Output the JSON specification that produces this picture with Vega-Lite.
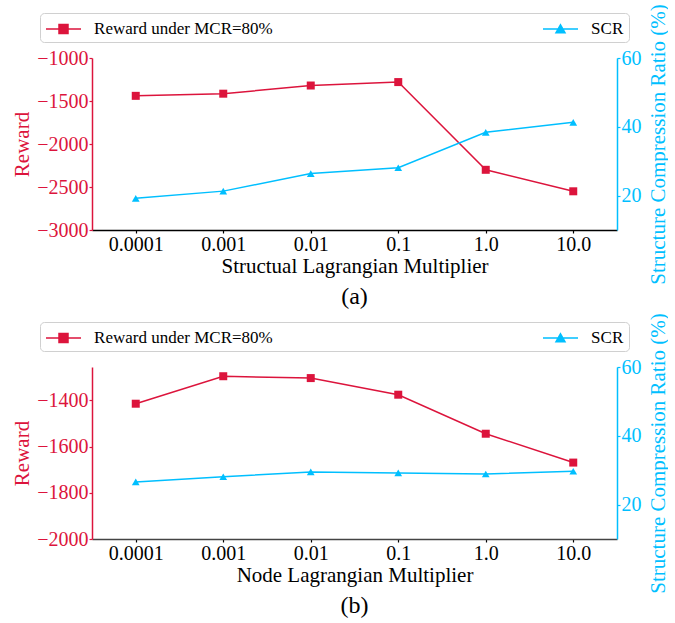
{
  "$schema": "https://vega.github.io/schema/vega-lite/v6.json",
  "padding": {"left": 11, "top": 3, "right": 0, "bottom": 0},
  "background": "white",
  "config": {
    "font": "Liberation Serif",
    "view": {"stroke": null},
    "axis": {"grid": false, "labelFont": "Liberation Serif", "titleFont": "Liberation Serif", "labelFontSize": 20, "titleFontSize": 21, "titleFontWeight": "normal", "tickSize": 3, "labelPadding": 1, "domainWidth": 1.5, "tickWidth": 1.2},
    "title": {"font": "Liberation Serif", "fontSize": 24, "fontWeight": "normal", "color": "black"},
    "legend": {"labelFont": "Liberation Serif", "labelFontSize": 17, "labelColor": "black", "labelLimit": 400, "strokeColor": "#d0d0d0", "fillColor": "white", "cornerRadius": 4, "padding": 5, "symbolStrokeWidth": 1.5}
  },
  "datasets": {
    "a": [
      {"lambda": "0.0001", "reward": -1440, "scr": 19.2},
      {"lambda": "0.001", "reward": -1415, "scr": 21.3},
      {"lambda": "0.01", "reward": -1320, "scr": 26.4},
      {"lambda": "0.1", "reward": -1280, "scr": 28.1},
      {"lambda": "1.0", "reward": -2300, "scr": 38.4},
      {"lambda": "10.0", "reward": -2550, "scr": 41.3}
    ],
    "b": [
      {"lambda": "0.0001", "reward": -1414, "scr": 26.6},
      {"lambda": "0.001", "reward": -1295, "scr": 28.1},
      {"lambda": "0.01", "reward": -1303, "scr": 29.5},
      {"lambda": "0.1", "reward": -1375, "scr": 29.2},
      {"lambda": "1.0", "reward": -1544, "scr": 28.9},
      {"lambda": "10.0", "reward": -1669, "scr": 29.7}
    ]
  },
  "spacing": 137,
  "bounds": "flush",
  "resolve": {
    "scale": {"fill": "independent", "stroke": "independent", "shape": "independent"},
    "legend": {"fill": "independent", "stroke": "independent", "shape": "independent"}
  },
  "vconcat": [
    {
      "width": 525,
      "height": 172,
      "data": {"name": "a"},
      "title": {"text": "(a)", "orient": "bottom", "offset": 1},
      "encoding": {
        "x": {"field": "lambda", "type": "nominal", "sort": ["0.0001", "0.001", "0.01", "0.1", "1.0", "10.0"], "scale": {"type": "point", "padding": 0.5},
          "axis": {"title": "Structual Lagrangian Multiplier", "labelAngle": 0, "domainColor": "black", "tickColor": "black", "labelColor": "black", "titleColor": "black", "titlePadding": 1}}
      },
      "layer": [
        {
          "encoding": {"y": {"field": "reward", "type": "quantitative", "scale": {"domain": [-3000, -1000], "nice": false, "zero": false},
            "axis": {"orient": "left", "title": "Reward", "values": [-3000, -2500, -2000, -1500, -1000], "format": "d", "labelExpr": "replace(datum.label, '-', '−')", "domainColor": "#DC143C", "tickColor": "#DC143C", "labelColor": "#DC143C", "titleColor": "#DC143C", "titlePadding": 4}}},
          "layer": [
            {"mark": {"type": "line", "color": "#DC143C", "strokeWidth": 1.5}},
            {"mark": {"type": "point", "shape": "square", "filled": true, "opacity": 1, "color": "#DC143C", "size": 64}}
          ]
        },
        {
          "encoding": {"y": {"field": "scr", "type": "quantitative", "scale": {"domain": [10, 60], "nice": false, "zero": false},
            "axis": {"orient": "right", "title": "Structure Compression Ratio (%)", "titleAngle": -90, "titleBaseline": "top", "values": [20, 40, 60], "format": "d", "domainColor": "#00BFFF", "tickColor": "#00BFFF", "labelColor": "#00BFFF", "titleColor": "#00BFFF", "titlePadding": 6}}},
          "layer": [
            {"mark": {"type": "line", "color": "#00BFFF", "strokeWidth": 1.5}},
            {"mark": {"type": "point", "shape": "triangle-up", "filled": true, "opacity": 1, "color": "#00BFFF", "size": 60}}
          ]
        },
        {
          "transform": [{"filter": "false"}],
          "mark": {"type": "point", "size": 400, "opacity": 1},
          "encoding": {
            "fill": {"field": "series", "type": "nominal", "scale": {"domain": ["Reward under MCR=80%", "SCR"], "range": ["#DC143C", "#00BFFF"]},
              "legend": {"orient": "none", "legendX": -52, "legendY": -45, "direction": "horizontal", "columns": 2, "columnPadding": 267, "title": null, "symbolSize": 400, "symbolOffset": 7.5, "labelOffset": 19.6}},
            "stroke": {"field": "series", "type": "nominal", "scale": {"domain": ["Reward under MCR=80%", "SCR"], "range": ["#DC143C", "#00BFFF"]}},
            "shape": {"field": "series", "type": "nominal", "scale": {"domain": ["Reward under MCR=80%", "SCR"], "range": ["M-1.75,0H1.75M-0.45,-0.45H0.45V0.45H-0.45Z", "M-1.75,0H1.75M0,-0.42L0.45,0.38H-0.45Z"]}}
          }
        }
      ],
      "resolve": {"scale": {"y": "independent"}}
    },
    {
      "width": 525,
      "height": 172,
      "data": {"name": "b"},
      "title": {"text": "(b)", "orient": "bottom", "offset": 1},
      "encoding": {
        "x": {"field": "lambda", "type": "nominal", "sort": ["0.0001", "0.001", "0.01", "0.1", "1.0", "10.0"], "scale": {"type": "point", "padding": 0.5},
          "axis": {"title": "Node Lagrangian Multiplier", "labelAngle": 0, "domainColor": "#444444", "tickColor": "black", "labelColor": "black", "titleColor": "black", "titlePadding": 1}}
      },
      "layer": [
        {
          "encoding": {"y": {"field": "reward", "type": "quantitative", "scale": {"domain": [-2000, -1255], "nice": false, "zero": false},
            "axis": {"orient": "left", "title": "Reward", "values": [-2000, -1800, -1600, -1400], "format": "d", "labelExpr": "replace(datum.label, '-', '−')", "domainColor": "#DC143C", "tickColor": "#DC143C", "labelColor": "#DC143C", "titleColor": "#DC143C", "titlePadding": 4}}},
          "layer": [
            {"mark": {"type": "line", "color": "#DC143C", "strokeWidth": 1.5}},
            {"mark": {"type": "point", "shape": "square", "filled": true, "opacity": 1, "color": "#DC143C", "size": 64}}
          ]
        },
        {
          "encoding": {"y": {"field": "scr", "type": "quantitative", "scale": {"domain": [10, 60], "nice": false, "zero": false},
            "axis": {"orient": "right", "title": "Structure Compression Ratio (%)", "titleAngle": -90, "titleBaseline": "top", "values": [20, 40, 60], "format": "d", "domainColor": "#00BFFF", "tickColor": "#00BFFF", "labelColor": "#00BFFF", "titleColor": "#00BFFF", "titlePadding": 6}}},
          "layer": [
            {"mark": {"type": "line", "color": "#00BFFF", "strokeWidth": 1.5}},
            {"mark": {"type": "point", "shape": "triangle-up", "filled": true, "opacity": 1, "color": "#00BFFF", "size": 60}}
          ]
        },
        {
          "transform": [{"filter": "false"}],
          "mark": {"type": "point", "size": 400, "opacity": 1},
          "encoding": {
            "fill": {"field": "series", "type": "nominal", "scale": {"domain": ["Reward under MCR=80%", "SCR"], "range": ["#DC143C", "#00BFFF"]},
              "legend": {"orient": "none", "legendX": -52, "legendY": -45, "direction": "horizontal", "columns": 2, "columnPadding": 267, "title": null, "symbolSize": 400, "symbolOffset": 7.5, "labelOffset": 19.6}},
            "stroke": {"field": "series", "type": "nominal", "scale": {"domain": ["Reward under MCR=80%", "SCR"], "range": ["#DC143C", "#00BFFF"]}},
            "shape": {"field": "series", "type": "nominal", "scale": {"domain": ["Reward under MCR=80%", "SCR"], "range": ["M-1.75,0H1.75M-0.45,-0.45H0.45V0.45H-0.45Z", "M-1.75,0H1.75M0,-0.42L0.45,0.38H-0.45Z"]}}
          }
        }
      ],
      "resolve": {"scale": {"y": "independent"}}
    }
  ]
}
